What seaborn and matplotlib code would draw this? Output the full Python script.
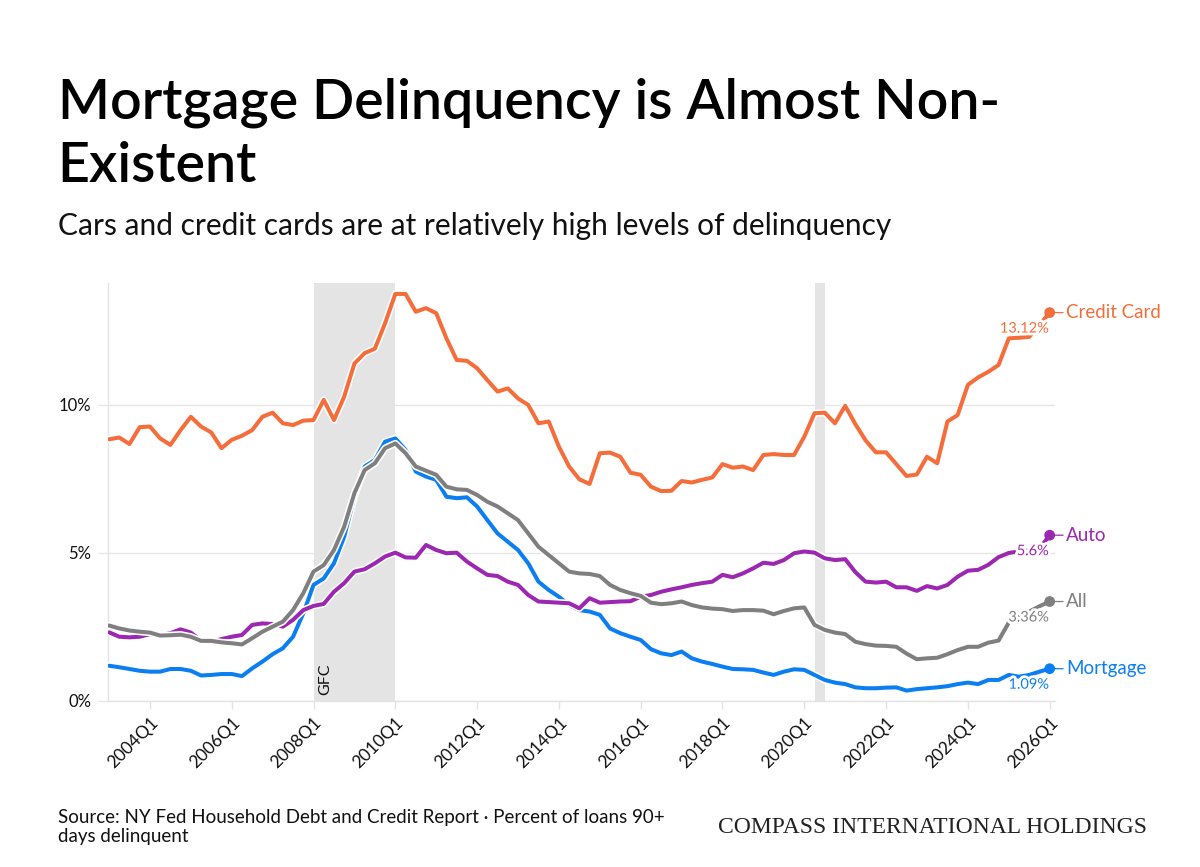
import matplotlib
matplotlib.use("Agg")
import matplotlib.pyplot as plt
import matplotlib.patheffects as pe
import seaborn as sns
import pandas as pd

# quarterly x axis, 2003Q1 .. 2026Q1
quarters = [f"{y}Q{q}" for y in range(2003, 2027) for q in range(1, 5)][:93]

# percent of balance 90+ days delinquent
credit_card = [
    8.84, 8.9, 8.68, 9.25,
    9.27, 8.87, 8.65, 9.15,
    9.6, 9.27, 9.07, 8.54,
    8.82, 8.96, 9.15, 9.6,
    9.74, 9.38, 9.32, 9.47,
    9.49, 10.17, 9.49, 10.28,
    11.4, 11.75, 11.9, 12.76,
    13.75, 13.75, 13.15, 13.27,
    13.1, 12.25, 11.52, 11.49,
    11.24, 10.84, 10.45, 10.56,
    10.22, 10.0, 9.38, 9.44,
    8.59, 7.92, 7.49, 7.33,
    8.37, 8.39, 8.25, 7.71,
    7.64, 7.24, 7.09, 7.1,
    7.43, 7.38, 7.47, 7.55,
    8.0, 7.88, 7.92, 7.8,
    8.31, 8.34, 8.31, 8.31,
    8.93, 9.72, 9.74, 9.38,
    9.97, 9.35, 8.8, 8.4,
    8.4, 8.0, 7.6, 7.65,
    8.25, 8.03, 9.44, 9.66,
    10.68, 10.93, 11.12, 11.35,
    12.25, 12.27, 12.3, 12.7,
    13.12,
]
auto = [
    2.32, 2.17, 2.15, 2.17,
    2.26, 2.22, 2.29, 2.42,
    2.31, 2.04, 2.0, 2.09,
    2.17, 2.23, 2.57, 2.62,
    2.6, 2.51, 2.74, 3.07,
    3.21, 3.28, 3.69, 3.98,
    4.37, 4.45, 4.65, 4.88,
    5.01, 4.85, 4.84, 5.27,
    5.1, 4.99, 5.01, 4.71,
    4.48, 4.26, 4.22, 4.03,
    3.92, 3.58, 3.36, 3.34,
    3.32, 3.3, 3.13, 3.47,
    3.32, 3.34, 3.36, 3.37,
    3.52, 3.58, 3.69, 3.77,
    3.84, 3.92, 3.98, 4.03,
    4.26, 4.18, 4.31, 4.48,
    4.67, 4.63, 4.76, 4.99,
    5.05, 5.01, 4.82, 4.76,
    4.79, 4.35, 4.03, 4.0,
    4.03, 3.84, 3.84, 3.72,
    3.88, 3.8, 3.92, 4.2,
    4.4, 4.43, 4.6, 4.86,
    5.0, 5.05, 5.08, 5.15,
    5.6,
]
all_loans = [
    2.55, 2.45, 2.38, 2.34,
    2.31, 2.21, 2.22, 2.24,
    2.17, 2.03, 2.03, 1.98,
    1.95, 1.91, 2.12, 2.34,
    2.51, 2.68, 3.07, 3.64,
    4.37, 4.59, 5.1, 5.89,
    7.02, 7.8, 8.03, 8.54,
    8.7, 8.37, 7.92, 7.78,
    7.64, 7.24, 7.15, 7.13,
    6.96, 6.73, 6.57, 6.34,
    6.11, 5.66, 5.21, 4.93,
    4.65, 4.37, 4.31, 4.29,
    4.22, 3.92, 3.75, 3.64,
    3.55, 3.32, 3.27, 3.3,
    3.36, 3.24, 3.16, 3.12,
    3.1, 3.04, 3.07, 3.07,
    3.05, 2.93, 3.04, 3.13,
    3.16, 2.57, 2.4, 2.31,
    2.26, 2.0, 1.92, 1.87,
    1.86, 1.83, 1.6, 1.41,
    1.44, 1.46, 1.58, 1.72,
    1.83, 1.83, 1.97, 2.04,
    2.65, 2.85, 3.02, 3.2,
    3.36,
]
mortgage = [
    1.19, 1.14, 1.08, 1.02,
    0.99, 0.99, 1.08, 1.08,
    1.02, 0.86, 0.88, 0.91,
    0.91, 0.84, 1.1, 1.33,
    1.58, 1.78, 2.17, 2.96,
    3.92, 4.14, 4.65, 5.55,
    6.9, 7.92, 8.14, 8.76,
    8.87, 8.48, 7.75, 7.58,
    7.47, 6.9, 6.85, 6.88,
    6.57, 6.11, 5.66, 5.38,
    5.1, 4.65, 4.03, 3.75,
    3.52, 3.24, 3.07, 3.02,
    2.91, 2.45, 2.29, 2.17,
    2.06, 1.75, 1.61, 1.55,
    1.67, 1.44, 1.33, 1.25,
    1.16, 1.08, 1.07, 1.05,
    0.96, 0.88, 0.99, 1.07,
    1.05, 0.88, 0.71, 0.62,
    0.57, 0.46, 0.43, 0.43,
    0.45, 0.46, 0.35, 0.4,
    0.43, 0.46, 0.5, 0.57,
    0.62, 0.57, 0.71, 0.71,
    0.88, 0.82, 0.88, 0.99,
    1.09,
]

series_order = ['Mortgage', 'Auto', 'All', 'Credit Card']   # drawing order
colors = {'Credit Card': '#f46d3b', 'Auto': '#9c27b0',
          'All': '#7f7f7f', 'Mortgage': '#0b7ff2'}
tick_labels = ['2004Q1', '2006Q1', '2008Q1', '2010Q1', '2012Q1', '2014Q1',
               '2016Q1', '2018Q1', '2020Q1', '2022Q1', '2024Q1', '2026Q1']
y_ticks = [0, 5, 10]
gfc_band = ('2008Q1', '2010Q1')
covid_band = ('2020Q2', '2020Q3')

wide = pd.DataFrame({'quarter': quarters, 'Credit Card': credit_card,
                     'Auto': auto, 'All': all_loans, 'Mortgage': mortgage})
wide['t'] = range(len(wide))
df = wide.melt(id_vars=['quarter', 't'], var_name='series', value_name='value')

sns.set_theme(style='white')
plt.rcParams['font.family'] = ['Lato', 'DejaVu Sans']

fig = plt.figure(figsize=(12, 8.67), dpi=100)
ax = fig.add_axes([0.09, 0.1915, 0.789, 0.4821])

# recession shading
for a, b in (gfc_band, covid_band):
    ax.axvspan(quarters.index(a), quarters.index(b), color='#e4e4e4', lw=0, zorder=1)
ax.annotate('GFC', xy=(quarters.index(gfc_band[0]), 0), xytext=(8.5, 4.5),
            textcoords='offset points', rotation=90, ha='center', va='bottom',
            fontsize=11.5, color='#111111', zorder=2)

halo = [pe.Stroke(linewidth=5.2, foreground='white'), pe.Normal()]
for z, name in enumerate(series_order):
    sub = df[df['series'] == name]
    c = colors[name]
    sns.lineplot(data=sub, x='t', y='value', color=c, lw=2.9, ax=ax,
                 zorder=3 + z, path_effects=halo,
                 solid_capstyle='round', solid_joinstyle='round')
    last = sub.iloc[-1]
    sns.scatterplot(x=[last['t']], y=[last['value']], color=c, s=60,
                    edgecolor='none', ax=ax, zorder=8, clip_on=False)
    ax.annotate(name, xy=(last['t'], last['value']), xytext=(12, 0),
                textcoords='offset points', ha='left', va='center',
                fontsize=13.5, color=c, annotation_clip=False,
                arrowprops=dict(arrowstyle='-', color=c, lw=0.9,
                                relpos=(0, 0.5), shrinkA=0, shrinkB=3.5))
    ax.annotate(f"{last['value']:g}%", xy=(last['t'], last['value']),
                xytext=(-0.5, -11.5), textcoords='offset points',
                ha='right', va='center', fontsize=10.5, color=c, zorder=10,
                path_effects=[pe.withStroke(linewidth=4, foreground='white')])

ax.set_xlim(-0.1, 92.5)
ax.set_ylim(0, 14.12)
ax.set_xticks([quarters.index(q) for q in tick_labels])
ax.set_xticklabels(tick_labels, rotation=45, ha='right', rotation_mode='anchor')
ax.set_yticks(y_ticks)
ax.set_yticklabels([f"{v}%" for v in y_ticks])
ax.set_xlabel('')
ax.set_ylabel('')
ax.grid(axis='y', color='#e6e6e6', lw=1)
ax.set_axisbelow(True)
for s in ('top', 'right'):
    ax.spines[s].set_visible(False)
for s in ('left', 'bottom'):
    ax.spines[s].set_color('#e3e3e3')
    ax.spines[s].set_linewidth(1)
ax.tick_params(axis='x', length=6, width=1, color='#e3e3e3', labelsize=12.5,
               labelcolor='#111111', pad=4, bottom=True)
ax.tick_params(axis='y', length=7, width=1, color='#e6e6e6', labelsize=12,
               labelcolor='#111111', pad=5, left=True)

# titles and footer
fig.text(0.048, 1 - 118 / 867, 'Mortgage Delinquency is Almost Non-',
         fontsize=40, weight='semibold', color='black', va='baseline')
fig.text(0.048, 1 - 182 / 867, 'Existent', fontsize=40, weight='semibold',
         color='black', va='baseline')
fig.text(0.048, 1 - 235 / 867,
         'Cars and credit cards are at relatively high levels of delinquency',
         fontsize=21.5, color='#111111', va='baseline')
fig.text(0.048, 1 - 823 / 867,
         'Source: NY Fed Household Debt and Credit Report · Percent of loans 90+',
         fontsize=13.5, color='#111111', va='baseline')
fig.text(0.048, 1 - 842 / 867, 'days delinquent', fontsize=13.5,
         color='#111111', va='baseline')
fig.text(0.956, 1 - 833 / 867, 'COMPASS INTERNATIONAL HOLDINGS',
         family='Liberation Serif', fontsize=17, color='#222222',
         ha='right', va='baseline')

fig.savefig('out.png', dpi=100, facecolor='white')
